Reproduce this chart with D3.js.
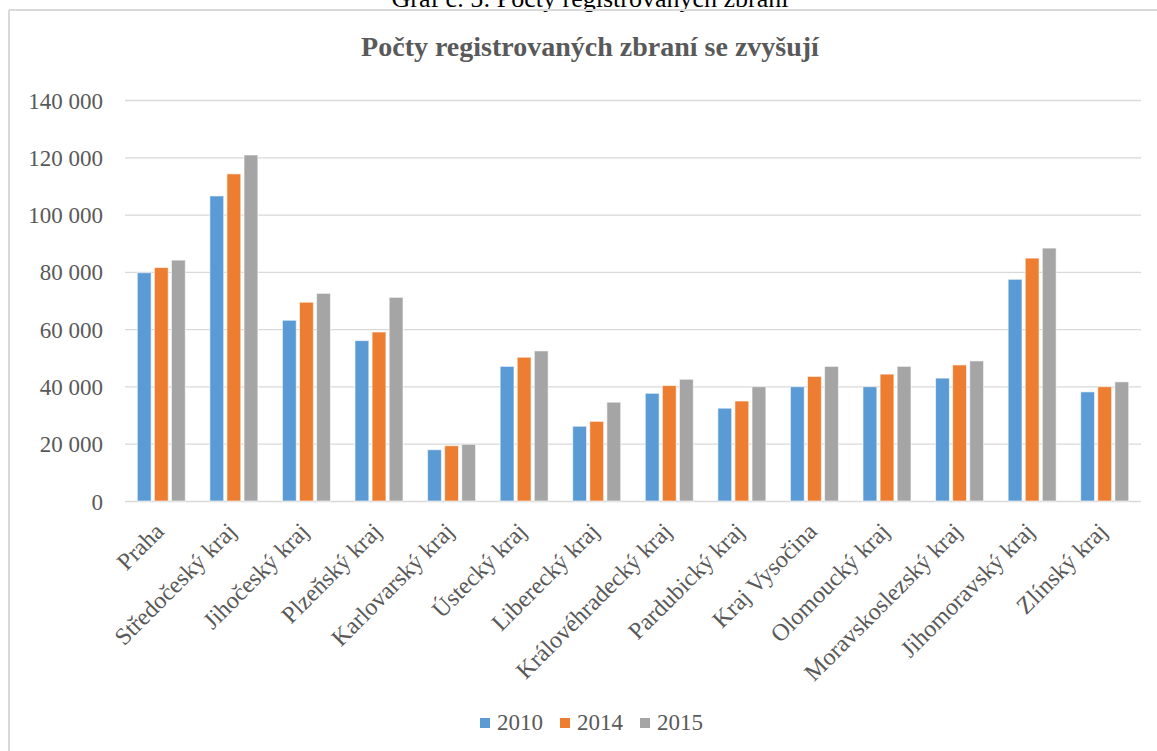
<!DOCTYPE html>
<meta charset="utf-8">
<style>
body { margin: 0; background: #fff; }
text { font-family: "Liberation Serif", "Times New Roman", serif; fill: #595959; }
.grid line { stroke: #d9d9d9; stroke-width: 1.3px; }
.title { font-size: 28px; font-weight: bold; text-anchor: middle; }
.caption { font-size: 26px; fill: #000; text-anchor: middle; }
.tick text { font-size: 23px; }
</style>
<svg width="1157" height="751"></svg>
<script src="https://cdn.jsdelivr.net/npm/d3@7"></script>
<script>

var regions = ["Praha", "Středočeský kraj", "Jihočeský kraj", "Plzeňský kraj", "Karlovarský kraj",
    "Ústecký kraj", "Liberecký kraj", "Královéhradecký kraj", "Pardubický kraj", "Kraj Vysočina",
    "Olomoucký kraj", "Moravskoslezský kraj", "Jihomoravský kraj", "Zlínský kraj"];

var years = ["2010", "2014", "2015"];

var v2010 = [79700, 106500, 63100, 56000, 17900, 47000, 26100, 37600, 32400, 39900, 39900, 42900, 77400, 38100];
var v2014 = [81500, 114200, 69400, 59000, 19300, 50200, 27800, 40300, 34900, 43500, 44300, 47500, 84800, 39900];
var v2015 = [84100, 120800, 72500, 71100, 19800, 52400, 34500, 42500, 39900, 47000, 47000, 48900, 88300, 41600];

var yTicks = [0, 20000, 40000, 60000, 80000, 100000, 120000, 140000];
var colors = ["#5b9bd5", "#ed7d31", "#a5a5a5"];

var svg = d3.select("svg");
var series = [v2010, v2014, v2015];

var x = d3.scaleBand()
    .domain(regions)
    .range([125, 1141]);

var inner = d3.scaleBand()
    .domain(years)
    .range([x.bandwidth() / 2 - 24, x.bandwidth() / 2 + 24])
    .paddingInner(0.19);

var y = d3.scaleLinear()
    .domain([0, 140000])
    .range([501, 100]);

var fmt = function(d) { return d3.format(",")(d).replace(/,/g, " "); };

// caption cut off by page edge
svg.append("text")
    .attr("class", "caption")
    .attr("x", 590)
    .attr("y", 7)
    .text("Graf č. 5: Počty registrovaných zbraní");

// frame
svg.append("line").attr("x1", 9).attr("x2", 1157).attr("y1", 10).attr("y2", 10)
    .attr("stroke", "#d9d9d9").attr("stroke-width", 2);
svg.append("line").attr("x1", 9).attr("x2", 9).attr("y1", 10).attr("y2", 751)
    .attr("stroke", "#d9d9d9").attr("stroke-width", 2);

svg.append("text")
    .attr("class", "title")
    .attr("x", 590)
    .attr("y", 56)
    .text("Počty registrovaných zbraní se zvyšují");

var gy = svg.append("g")
    .attr("class", "grid")
    .attr("transform", "translate(125,0)")
    .call(d3.axisLeft(y).tickValues(yTicks).tickSize(-1016).tickPadding(22).tickFormat(fmt));
gy.select(".domain").remove();
gy.selectAll(".tick text").attr("dy", "0.35em");

var groups = svg.append("g")
  .selectAll("g")
  .data(regions)
  .enter().append("g")
    .attr("transform", function(d) { return "translate(" + x(d) + ",0)"; });

groups.selectAll("rect")
    .data(function(d, i) { return series.map(function(s, j) { return {year: years[j], value: s[i], c: colors[j]}; }); })
  .enter().append("rect")
    .attr("x", function(d) { return inner(d.year); })
    .attr("width", inner.bandwidth())
    .attr("y", function(d) { return y(d.value); })
    .attr("height", function(d) { return y(0) - y(d.value); })
    .attr("fill", function(d) { return d.c; })
    .attr("stroke", "#fff")
    .attr("stroke-opacity", 0.6)
    .attr("stroke-width", 1);

// rotated category labels
svg.append("g")
  .selectAll("text")
  .data(regions)
  .enter().append("text")
    .attr("transform", function(d) { return "translate(" + (x(d) + x.bandwidth() / 2 - 8) + ",521) rotate(-45)"; })
    .attr("text-anchor", "end")
    .attr("dy", "0.7em")
    .style("font-size", "24px")
    .text(function(d) { return d; });

// legend
var legend = svg.append("g")
  .selectAll("g")
  .data(years)
  .enter().append("g")
    .attr("transform", function(d, i) { return "translate(" + (480 + i * 80) + ",718)"; });

legend.append("rect")
    .attr("width", 10)
    .attr("height", 10)
    .attr("fill", function(d, i) { return colors[i]; });

legend.append("text")
    .attr("x", 17)
    .attr("y", 12)
    .style("font-size", "23px")
    .text(function(d) { return d; });

</script>
